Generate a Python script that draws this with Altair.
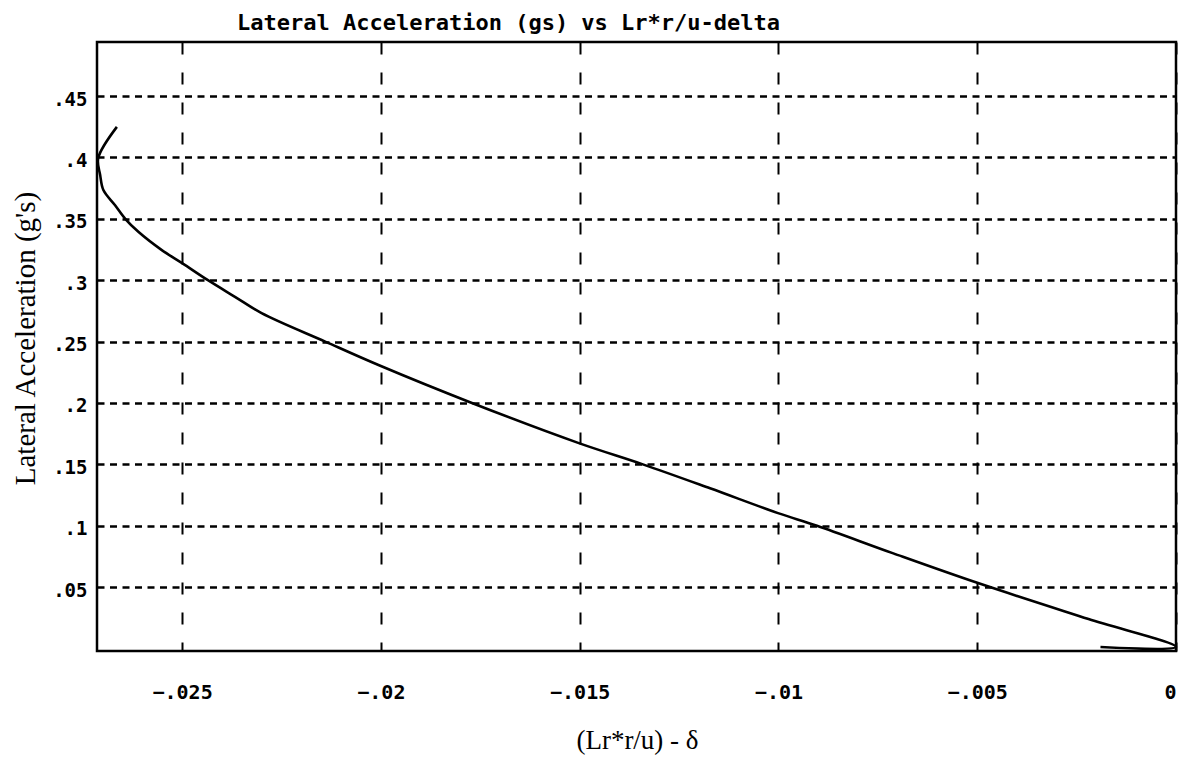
import altair as alt
import pandas as pd

# Curve values (from the origin up to the top end)
x_vals = [-0.0019, 0.0, -0.0022, -0.00498, -0.00711, -0.00903, -0.01001,
          -0.01172, -0.01341, -0.01502, -0.01771, -0.02006,
          -0.02140, -0.02300, -0.02367, -0.02435, -0.02499, -0.02551,
          -0.02610, -0.02643, -0.02669, -0.02698, -0.02706, -0.02711, -0.02664]
y_vals = [0.0012, 0.0012, 0.0240, 0.0533, 0.0775, 0.1000, 0.1103,
          0.1305, 0.1500, 0.1673, 0.2000, 0.2309,
          0.2500, 0.2732, 0.2865, 0.3000, 0.3137, 0.3245,
          0.3394, 0.3500, 0.3612, 0.3734, 0.3856, 0.3994, 0.4249]

x_ticks = [-0.025, -0.02, -0.015, -0.01, -0.005, 0.0]
y_ticks = [0.05, 0.1, 0.15, 0.2, 0.25, 0.3, 0.35, 0.4, 0.45]

chart_title = "Lateral Acceleration (gs) vs Lr*r/u-delta"
x_title = "(Lr*r/u) - \u03b4"
y_title = "Lateral Acceleration (g's)"

df = pd.DataFrame({"x": x_vals, "y": y_vals, "i": list(range(len(x_vals)))})

label_expr = "replace(format(datum.value, '~g'), '0.', '.')"

chart = alt.Chart(df).mark_line(color="black", strokeWidth=2.6,
                                interpolate="catmull-rom").encode(
    x=alt.X("x:Q",
            scale=alt.Scale(domain=[-0.02714, 0.0], nice=False, zero=False),
            axis=alt.Axis(values=x_ticks, labelExpr=label_expr, title=x_title,
                          ticks=False, domain=False,
                          grid=True, gridColor="black", gridDash=[12, 18], gridWidth=2,
                          labelFont="DejaVu Sans Mono", labelFontWeight="bold",
                          labelFontSize=20, labelColor="black",
                          labelBaseline="alphabetic", labelPadding=47,
                          labelFlush=True,
                          titleFont="Liberation Serif", titleFontSize=27,
                          titleFontWeight="normal", titleColor="black",
                          titleX=540, titleY=97, titleBaseline="alphabetic")),
    y=alt.Y("y:Q",
            scale=alt.Scale(domain=[-0.002, 0.494], nice=False, zero=False),
            axis=alt.Axis(values=y_ticks, labelExpr=label_expr, title=y_title,
                          ticks=False, domain=False,
                          grid=True, gridColor="black", gridDash=[7, 5.5], gridWidth=2.5,
                          labelFont="DejaVu Sans Mono", labelFontWeight="bold",
                          labelFontSize=19, labelColor="black",
                          labelBaseline="middle", labelOffset=3, labelPadding=10,
                          labelFlush=False,
                          titleFont="Liberation Serif", titleFontSize=29,
                          titleFontWeight="normal", titleColor="black",
                          titleAngle=-90, titleX=-63, titleY=296,
                          titleBaseline="alphabetic", titleAlign="center")),
    order="i:Q",
).properties(
    width=1079,
    height=609,
    autosize=alt.AutoSizeParams(type="none"),
    padding={"left": 97, "top": 42, "right": 4, "bottom": 109},
    title=alt.TitleParams(chart_title, anchor="start", frame="group", dx=140,
                          dy=25, offset=15, baseline="alphabetic",
                          font="DejaVu Sans Mono", fontWeight="bold",
                          fontSize=22, color="black"),
).configure(
    background="white",
    view=alt.ViewConfig(stroke="black", strokeWidth=2.5),
)

chart.save("out.html", embed_options={"renderer": "svg", "actions": False})
